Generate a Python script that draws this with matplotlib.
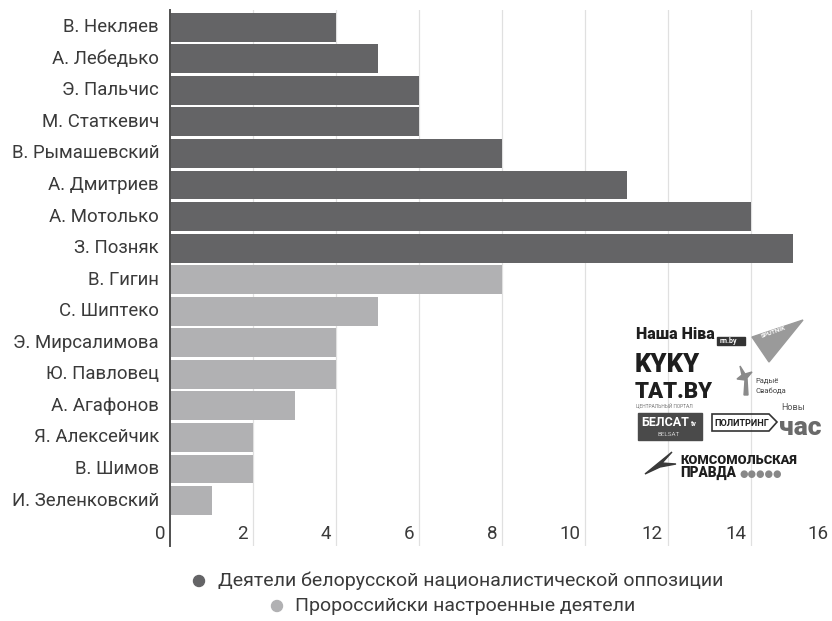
import matplotlib.pyplot as plt
import matplotlib.transforms as mtransforms
from matplotlib.patches import Polygon, Rectangle, Circle

plt.rcParams['font.family'] = ['Roboto', 'DejaVu Sans']

# Число упоминаний по персоналиям (сверху вниз)
names_opp = ['В. Некляев', 'А. Лебедько', 'Э. Пальчис', 'М. Статкевич',
             'В. Рымашевский', 'А. Дмитриев', 'А. Мотолько', 'З. Позняк']
values_opp = [4, 5, 6, 6, 8, 11, 14, 15]
names_pro = ['В. Гигин', 'С. Шиптеко', 'Э. Мирсалимова', 'Ю. Павловец',
             'А. Агафонов', 'Я. Алексейчик', 'В. Шимов', 'И. Зеленковский']
values_pro = [8, 5, 4, 4, 3, 2, 2, 1]
x_ticks = [0, 2, 4, 6, 8, 10, 12, 14, 16]
legend_labels = ['Деятели белорусской националистической оппозиции',
                 'Пророссийски настроенные деятели']

dark = '#646466'
light = '#b1b1b3'
text_col = '#3a3a3a'

W, H = 832, 621
fig = plt.figure(figsize=(W / 100, H / 100), dpi=100)

# оси: ноль на 170 px, 41.5 px на единицу
x0_px, unit_px = 170, 41.5
xmax = (W - x0_px) / unit_px
ax = fig.add_axes([x0_px / W, 1 - 546 / H, 1 - x0_px / W, (546 - 10) / H])

names = names_opp + names_pro
values = values_opp + values_pro
colors = [dark] * len(values_opp) + [light] * len(values_pro)
ypos = list(range(len(names)))
ax.barh(ypos, values, height=0.915, color=colors, zorder=2)

ax.set_xlim(0, xmax)
ax.set_ylim(16.44, -0.545)
for side in ['top', 'right', 'bottom']:
    ax.spines[side].set_visible(False)
ax.spines['left'].set_color('#505050')
ax.spines['left'].set_linewidth(1.4)
ax.spines['left'].set_zorder(3)

for t in x_ticks[1:]:
    ax.axvline(t, color='#e0e0e0', lw=0.9, zorder=1)
ax.set_xticks([])
ax.set_yticks([])

# подписи персоналий
to_px = mtransforms.offset_copy(ax.transData, fig=fig, x=-11, y=0, units='dots')
for y, name in zip(ypos, names):
    ax.text(0, y, name, transform=to_px, ha='right', va='center',
            fontsize=13.4, color=text_col, clip_on=False)

# подписи шкалы ставим слева от линий сетки
tick_tr = mtransforms.offset_copy(ax.transData, fig=fig, x=-5, y=0, units='dots')
for t in x_ticks:
    ax.text(t, 16.06, str(t), transform=tick_tr, ha='right', va='center',
            fontsize=13.5, color=text_col, clip_on=False)

# легенда
fig.text(218 / W, 1 - 581 / H, legend_labels[0], ha='left', va='center',
         fontsize=14, color=text_col)
fig.text(295 / W, 1 - 606 / H, legend_labels[1], ha='left', va='center',
         fontsize=14, color=text_col)
fig.patches.append(Circle((199, H - 581), 5.5, transform=None,
                          color=dark, figure=fig))
fig.patches.append(Circle((277, H - 606), 5.5, transform=None,
                          color=light, figure=fig))


# логотипы изданий
def px(x, y):
    return (x / W, 1 - y / H)


def logo(x, y, s, size, **kw):
    kw.setdefault('color', '#1e1e1e')
    kw.setdefault('weight', 'bold')
    fig.text(*px(x, y), s, fontsize=size, va='center', **kw)


logo(636, 334, 'Наша Ніва', 11.5, weight='heavy')
fig.patches.append(Rectangle(px(717, 345), 28 / W, 8 / H,
                             transform=fig.transFigure, color='#333333'))
logo(720, 341, 'nn.by', 5, color='white')

fig.patches.append(Polygon([px(752, 337), px(803, 320), px(769, 362)],
                           transform=fig.transFigure, color='#9a9a9a'))
logo(760, 332, 'SPUTNIK', 4.5, color='white', rotation=20)

logo(635, 365, 'KYKY', 18.5, weight='heavy')
logo(635, 392, 'TAT.BY', 16, weight='heavy')
logo(636, 405, 'ЦЕНТРАЛЬНЫЙ ПОРТАЛ', 3.5, color='#777777', weight='normal')

fig.patches.append(Polygon([px(744, 395), px(748, 395), px(747, 378),
                            px(752, 372), px(745, 374), px(740, 366),
                            px(742, 375), px(737, 379), px(745, 380)],
                           transform=fig.transFigure, color='#8a8a8a'))
logo(755, 381, 'Радыё', 5.5, color='#444444', weight='normal')
logo(755, 391, 'Свабода', 5.5, color='#444444', weight='normal')

fig.patches.append(Rectangle(px(638, 440), 64 / W, 27 / H,
                             transform=fig.transFigure, color='#4a4a4a'))
logo(641, 423, 'БЕЛСАТ', 9, color='white')
logo(691, 424, 'tv', 5, color='white')
logo(657, 434, 'BELSAT', 4.5, color='#cccccc', weight='normal')

fig.patches.append(Polygon([px(712, 414), px(769, 414), px(777, 422),
                            px(769, 431), px(712, 431)],
                           transform=fig.transFigure, fill=False,
                           edgecolor='#333333', lw=1.2))
logo(714, 423, 'ПОЛИТРИНГ', 6.6)
logo(781, 407, 'Новы', 6.5, color='#555555', weight='normal')
logo(779, 428, 'час', 19, color='#6a6a6a', weight='heavy')

fig.patches.append(Polygon([px(645, 474), px(672, 452), px(662, 463),
                            px(676, 464), px(660, 467)],
                           transform=fig.transFigure, color='#3a3a3a'))
logo(680, 460, 'КОМСОМОЛЬСКАЯ', 9.3, weight='heavy')
logo(680, 473, 'ПРАВДА', 9.8, weight='heavy')
logo(739, 474, '●●●●●', 7, color='#888888', weight='normal')

fig.savefig('out.png', dpi=100)
